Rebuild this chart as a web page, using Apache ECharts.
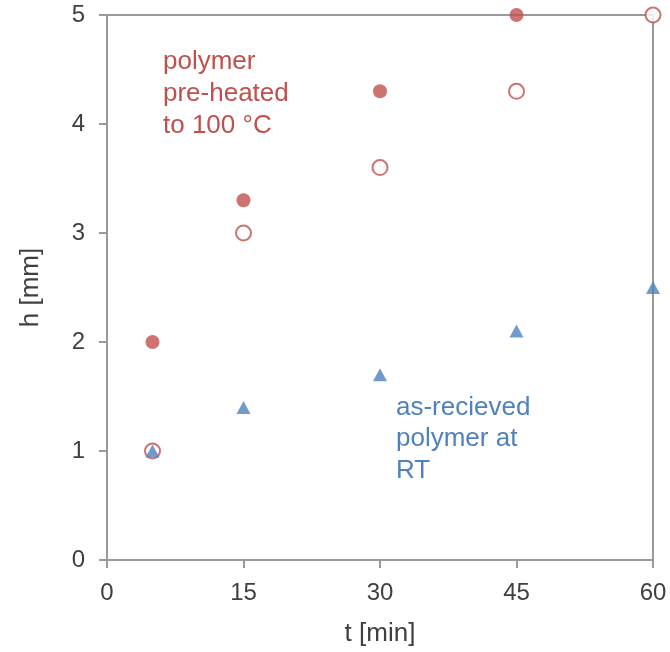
<!DOCTYPE html>
<html>
<head>
<meta charset="utf-8">
<script src="https://cdn.jsdelivr.net/npm/echarts@6/dist/echarts.min.js"></script>
<style>
  html, body { margin: 0; padding: 0; background: #fff; }
  #chart { width: 670px; height: 652px; }
</style>
</head>
<body>
<div id="chart"></div>
<script>
// Sample height h over time t
const timeMin      = [5, 15, 30, 45, 60];
const preheatedA   = [2.0, 3.3, 4.3, 5.0, null];   // filled circles
const preheatedB   = [1.0, 3.0, 3.6, 4.3, 5.0];    // open circles
const asReceivedRT = [1.0, 1.4, 1.7, 2.1, 2.5];    // triangles
const xTicks = [0, 15, 30, 45, 60];
const yTicks = [0, 1, 2, 3, 4, 5];

const RED = '#c0504d';
const BLUE = '#4f81bd';
const AXIS = '#9a9a9a';
const FONT = 'Liberation Sans, Arial, sans-serif';

function pairs(ys) {
  return timeMin.map((t, i) => [t, ys[i]]).filter(p => p[1] !== null);
}

const chart = echarts.init(document.getElementById('chart'));
chart.setOption({
  animation: false,
  grid: {
    left: 107, right: 17, top: 15, bottom: 90.5,
    show: true, borderColor: AXIS, borderWidth: 2, backgroundColor: 'transparent'
  },
  xAxis: {
    type: 'value', min: xTicks[0], max: xTicks[xTicks.length - 1], interval: 15,
    name: 't [min]', nameLocation: 'middle', nameGap: 61,
    nameTextStyle: { fontFamily: FONT, fontSize: 26, color: '#404040' },
    axisLine: { show: true, lineStyle: { color: AXIS, width: 2 } },
    axisTick: { show: true, length: 8, lineStyle: { color: AXIS, width: 2 } },
    axisLabel: { fontFamily: FONT, fontSize: 24, color: '#404040', margin: 21 },
    splitLine: { show: false }
  },
  yAxis: {
    type: 'value', min: yTicks[0], max: yTicks[yTicks.length - 1], interval: 1,
    name: 'h [mm]', nameLocation: 'middle', nameGap: 63, nameRotate: 90,
    nameTextStyle: { fontFamily: FONT, fontSize: 26, color: '#404040' },
    axisLine: { show: true, lineStyle: { color: AXIS, width: 2 } },
    axisTick: { show: true, length: 8, lineStyle: { color: AXIS, width: 2 } },
    axisLabel: { fontFamily: FONT, fontSize: 24, color: '#404040', margin: 22 },
    splitLine: { show: false }
  },
  series: [
    {
      type: 'scatter', name: 'pre-heated (open)', data: pairs(preheatedB),
      symbol: 'circle', symbolSize: 15, clip: false,
      itemStyle: { color: '#fff', borderColor: RED, borderWidth: 2 }, z: 2
    },
    {
      type: 'scatter', name: 'pre-heated (filled)', data: pairs(preheatedA),
      symbol: 'circle', symbolSize: 14, clip: false,
      itemStyle: { color: RED }, z: 3
    },
    {
      type: 'scatter', name: 'as-received RT', data: pairs(asReceivedRT),
      symbol: 'triangle', symbolSize: [14, 13], clip: false,
      itemStyle: { color: BLUE }, z: 4
    }
  ],
  graphic: [
    {
      type: 'text', left: 163, top: 46,
      style: {
        text: 'polymer\npre-heated\nto 100 °C',
        fill: RED, font: '26px ' + FONT, lineHeight: 32
      }
    },
    {
      type: 'text', left: 396, top: 392,
      style: {
        text: 'as-recieved\npolymer at\nRT',
        fill: BLUE, font: '26px ' + FONT, lineHeight: 31.5
      }
    }
  ]
});
</script>
</body>
</html>
